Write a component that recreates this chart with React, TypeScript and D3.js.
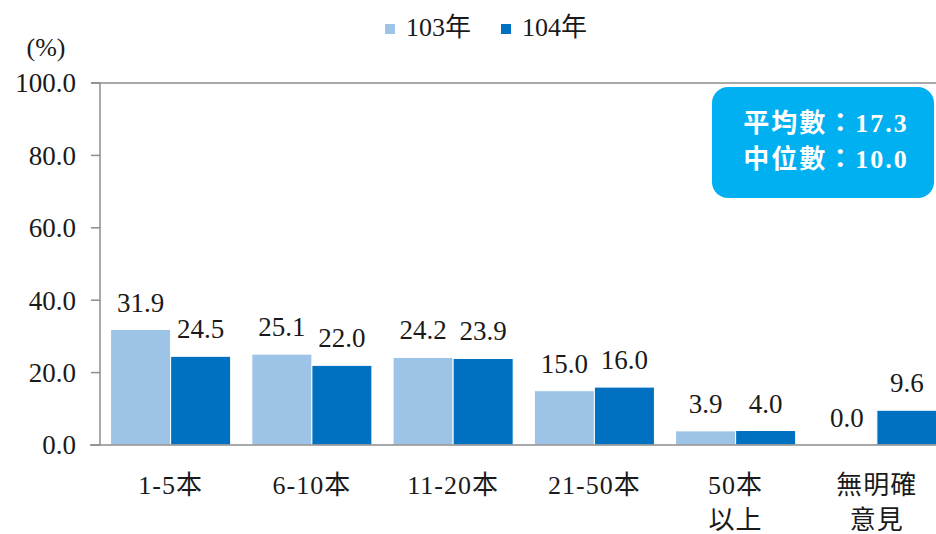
import React, { useEffect, useRef } from 'react'
import * as d3 from 'd3'

const categories: string[][] = [['1-5本'], ['6-10本'], ['11-20本'], ['21-50本'], ['50本', '以上'], ['無明確', '意見']]
const seriesNames = ['103年', '104年']
const values103 = [31.9, 25.1, 24.2, 15.0, 3.9, 0.0]
const values104 = [24.5, 22.0, 23.9, 16.0, 4.0, 9.6]
const yTicks = [0, 20, 40, 60, 80, 100]
const summaryLines = ['平均數：17.3', '中位數：10.0']

const colors = ['#9DC3E6', '#0070C0']
const FONT = "'Liberation Serif', 'Noto Sans CJK TC', serif"

const W = 936
const H = 534

const useD3 = (renderChartFn: (svg: any) => void) => {
  const ref = useRef<SVGSVGElement>(null)
  useEffect(() => {
    const svg = d3.select(ref.current)
    svg.selectAll('*').remove()
    renderChartFn(svg)
  }, [])
  return ref
}

const DrawChart = () => {
  const ref = useD3((svg: d3.Selection<SVGSVGElement | null, unknown, null, undefined>) => {
    const left = 100
    const right = 947.5
    const top = 83
    const bottom = 445
    const series = [values103, values104]
    const keys = categories.map(c => c.join(''))

    const x0 = d3.scaleBand<string>().domain(keys).range([left, right]).paddingInner(0.15).paddingOuter(0.075)
    const x1 = d3.scaleBand<number>().domain([0, 1]).range([0, x0.bandwidth()])
    const y = d3.scaleLinear().domain([0, 100]).range([bottom, top])

    svg.append('rect').attr('width', W).attr('height', H).attr('fill', '#fff')

    const txt = (sel: any, size: number) =>
      sel.style('font-family', FONT).style('font-size', `${size}px`).attr('fill', '#1a1a1a')

    // axis lines
    const axisColor = '#8c8c8c'
    svg.append('line').attr('x1', 91).attr('x2', W).attr('y1', y(100)).attr('y2', y(100)).attr('stroke', axisColor).attr('stroke-width', 1.5)
    svg.append('line').attr('x1', left).attr('x2', left).attr('y1', y(100)).attr('y2', y(0)).attr('stroke', axisColor).attr('stroke-width', 1.5)

    const yAxis = svg.append('g')
    yAxis
      .selectAll('line')
      .data(yTicks)
      .enter()
      .append('line')
      .attr('x1', 91)
      .attr('x2', left)
      .attr('y1', d => y(d))
      .attr('y2', d => y(d))
      .attr('stroke', axisColor)
      .attr('stroke-width', 1.5)
    txt(
      yAxis
        .selectAll('text')
        .data(yTicks)
        .enter()
        .append('text')
        .attr('x', 76)
        .attr('y', d => y(d))
        .attr('dy', '0.35em')
        .attr('text-anchor', 'end'),
      27
    ).text(d => d.toFixed(1))

    txt(svg.append('text').attr('x', 46).attr('y', 47).attr('dy', '0.35em').attr('text-anchor', 'middle'), 26).text('(%)')

    // bars
    const groups = svg
      .append('g')
      .selectAll('g')
      .data(keys)
      .enter()
      .append('g')
      .attr('transform', d => `translate(${x0(d)},0)`)

    groups.each(function (k, i) {
      const g = d3.select(this)
      series.forEach((vals, s) => {
        const v = vals[i]
        const bx = x1(s) as number
        if (v > 0) {
          g.append('rect')
            .attr('x', bx)
            .attr('y', y(v))
            .attr('width', x1.bandwidth())
            .attr('height', y(0) - y(v))
            .attr('fill', colors[s])
            .attr('stroke', '#fff')
            .attr('stroke-width', 1)
        }
        txt(
          g.append('text')
            .attr('x', bx + x1.bandwidth() / 2)
            .attr('y', y(v) - 18)
            .attr('text-anchor', 'middle'),
          27
        ).text(v.toFixed(1))
      })
    })

    // baseline
    svg.append('line').attr('x1', 90).attr('x2', W).attr('y1', y(0)).attr('y2', y(0)).attr('stroke', axisColor).attr('stroke-width', 1.5)

    // x labels
    categories.forEach((lines, i) => {
      const cx = (x0(keys[i]) as number) + x0.bandwidth() / 2
      lines.forEach((t, j) => {
        txt(
          svg
            .append('text')
            .attr('x', cx)
            .attr('y', 485 + j * 35)
            .attr('dy', '0.35em')
            .attr('text-anchor', 'middle')
            .style('letter-spacing', '1px'),
          26
        ).text(t)
      })
    })

    // legend
    const legendX = [385, 501]
    seriesNames.forEach((name, s) => {
      svg.append('rect').attr('x', legendX[s]).attr('y', 24).attr('width', 10).attr('height', 10).attr('fill', colors[s])
      txt(svg.append('text').attr('x', legendX[s] + 21).attr('y', 27).attr('dy', '0.35em'), 26).text(name)
    })

    // summary box
    svg.append('rect').attr('x', 712).attr('y', 87).attr('width', 222).attr('height', 111).attr('rx', 16).attr('fill', '#00B0F0')
    summaryLines.forEach((t, i) => {
      txt(
        svg
          .append('text')
          .attr('x', 826)
          .attr('y', 123 + i * 36)
          .attr('dy', '0.35em')
          .attr('text-anchor', 'middle')
          .attr('font-weight', 'bold')
          .style('letter-spacing', '2px'),
        26
      )
        .attr('fill', '#fff')
        .text(t)
    })
  })

  return <svg ref={ref} width={W} height={H} style={{ position: 'absolute', left: 0, top: 0 }} />
}

const App = () => {
  return (
    <div>
      <DrawChart />
    </div>
  )
}

export default App
